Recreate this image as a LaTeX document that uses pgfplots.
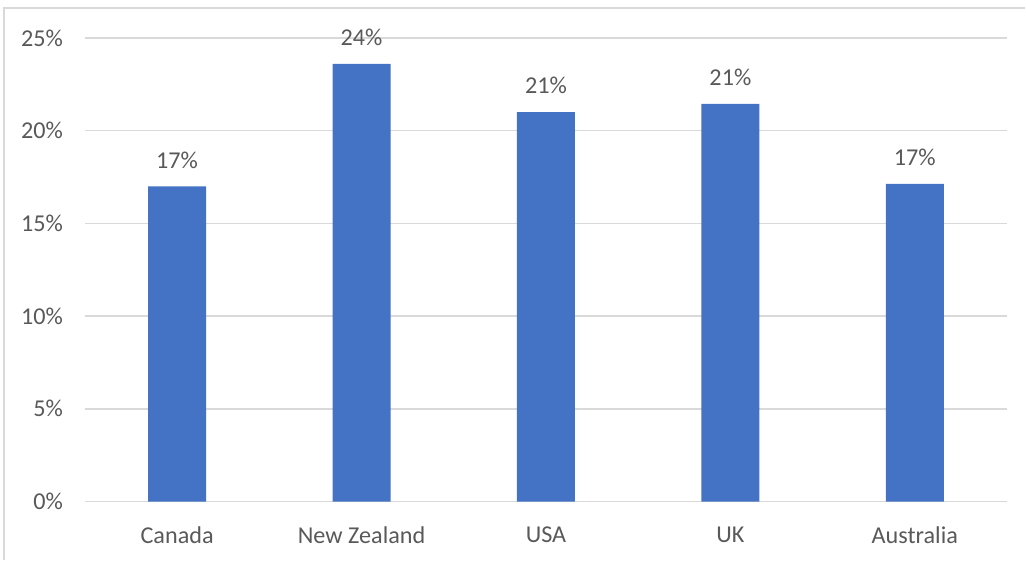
\documentclass[border=0pt]{standalone}
\usepackage{pgfplots}
\pgfplotsset{compat=1.18}
\usepackage{fontspec}
\setmainfont{Carlito}
\definecolor{barblue}{HTML}{4472C4}
\definecolor{gridgray}{HTML}{D9D9D9}
\definecolor{txtgray}{HTML}{595959}
\begin{document}
\begin{tikzpicture}
\path (0pt,0pt) rectangle (513pt,280.5pt);
\draw[gridgray, line width=1pt] (2.25pt,0pt) -- (2.25pt,276.5pt) -- (513pt,276.5pt);
\begin{axis}[
  at={(42.5pt,29.5pt)}, anchor=south west,
  scale only axis, width=461.5pt, height=232pt,
  ybar, bar width=29pt,
  xmin=-0.5, xmax=4.5, ymin=0, ymax=25,
  xtick=data, xticklabels={Canada,New Zealand,USA,UK,Australia},
  ytick={0,5,10,15,20,25},
  yticklabels={0\%,5\%,10\%,15\%,20\%,25\%},
  axis x line*=bottom, axis y line*=left,
  x axis line style={gridgray, line width=0.8pt, -},
  y axis line style={draw=none},
  ymajorgrids, grid style={gridgray, line width=0.8pt},
  major tick length=0pt,
  /pgf/number format/assume math mode=true,
  tick label style={font=\fontsize{12.1}{14}\selectfont, text=txtgray},
  yticklabel style={xshift=-7.5pt},
  xticklabel style={yshift=-9pt},
  nodes near coords={\pgfmathprintnumber[fixed,precision=0,assume math mode=true]{\pgfplotspointmeta}\%},
  nodes near coords style={font=\fontsize{12.1}{14}\selectfont, text=txtgray, anchor=south, yshift=5.5pt},
  clip=false,
]
\addplot[fill=barblue, draw=none] coordinates {(0,17.0) (1,23.6) (2,21.0) (3,21.45) (4,17.13)};
\end{axis}
\end{tikzpicture}
\end{document}
